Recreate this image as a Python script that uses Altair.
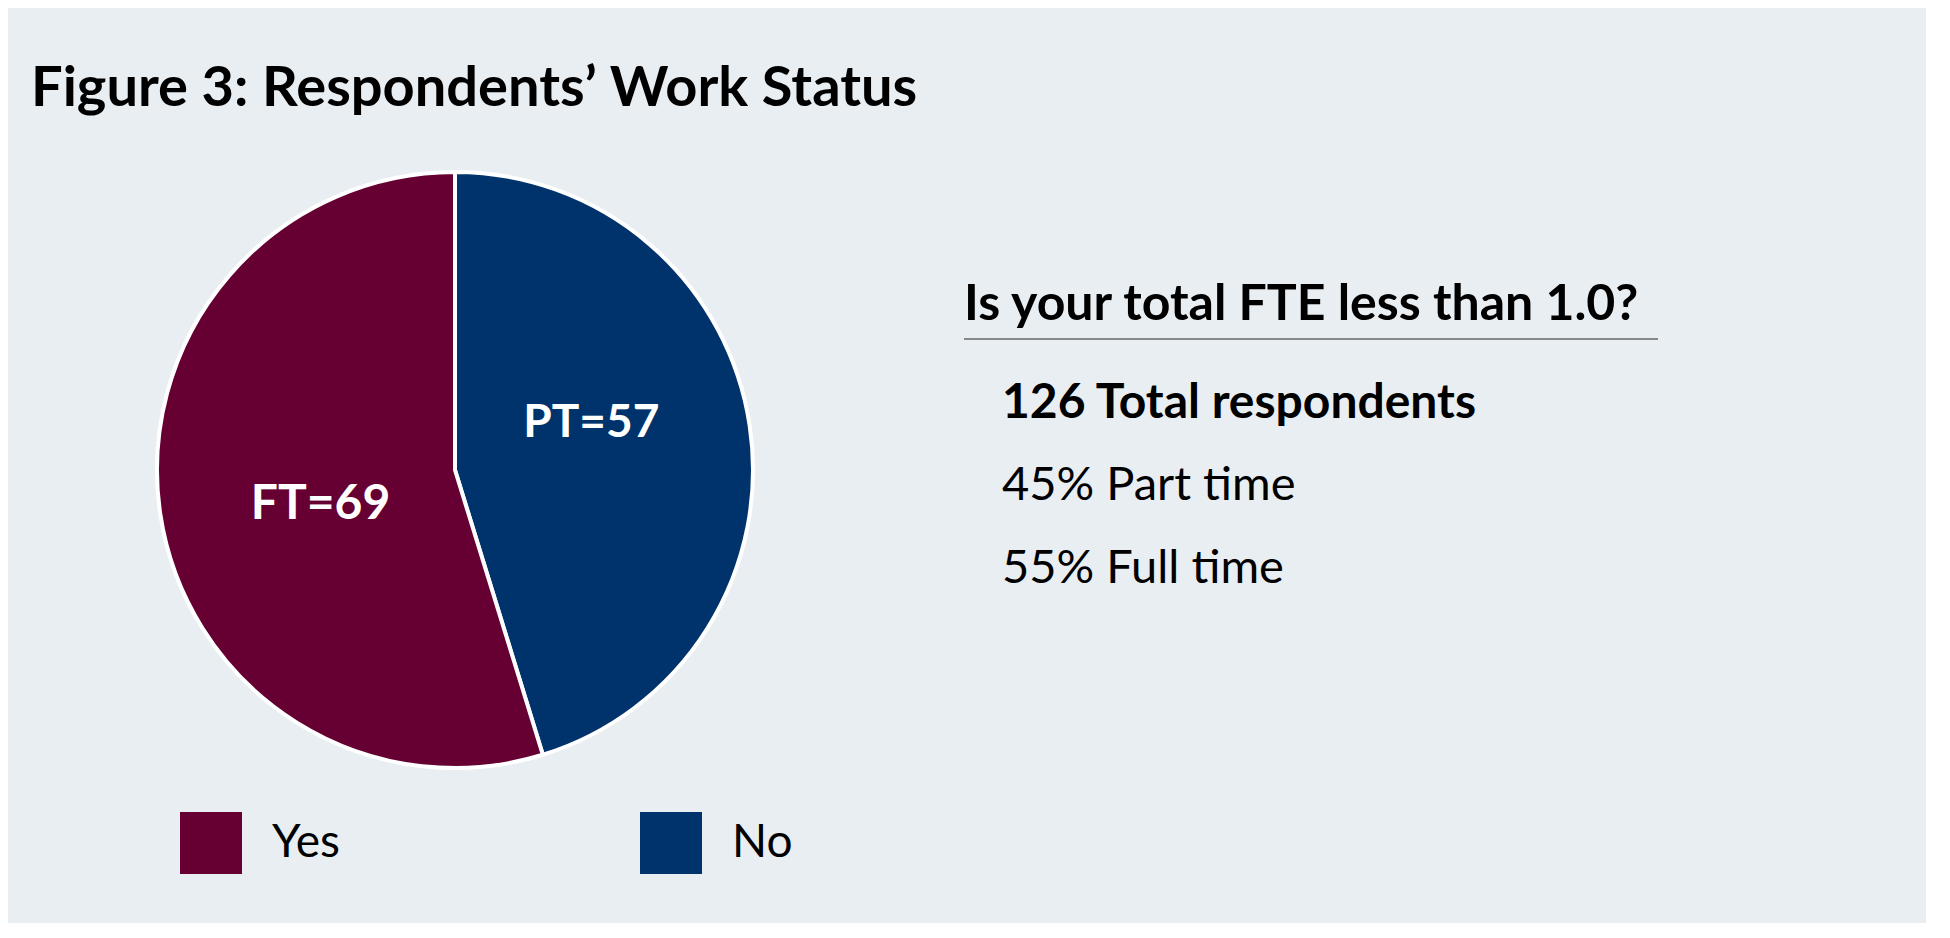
import altair as alt
import pandas as pd

# ---- data ----
status = ["No", "Yes"]
counts = [57, 69]
slice_labels = ["PT=57", "FT=69"]
slice_order = [1, 2]

legend_order = ["Yes", "No"]
legend_colors = ["#660033", "#00336B"]

title_text = "Figure 3: Respondents\u2019 Work Status"
question = "Is your total FTE less than 1.0?"
total_line = "126 Total respondents"
pct_lines = ["45% Part time", "55% Full time"]

df = pd.DataFrame({"status": status, "count": counts,
                   "label": slice_labels, "order": slice_order})

BG = "#E9EEF2"
FONT = "Lato"

CX, CY = 447, 347
R = 298

color_scale = alt.Scale(domain=legend_order, range=legend_colors)

pie = alt.Chart(df).mark_arc(outerRadius=R, stroke="white", strokeWidth=4).encode(
    theta=alt.Theta("count:Q", stack=True),
    order=alt.Order("order:Q"),
    color=alt.Color(
        "status:N", scale=color_scale,
        legend=alt.Legend(
            orient="none", legendX=172, legendY=689, direction="horizontal",
            title=None, symbolType="square", symbolSize=3844,
            symbolStrokeWidth=0, symbolOpacity=1, labelFontSize=46,
            labelFont=FONT, labelColor="black", labelOffset=30,
            columnPadding=300, padding=0, labelLimit=400,
        ),
    ),
    x=alt.value(CX), y=alt.value(CY),
)

lab_base = alt.Chart(df).transform_window(
    cum="sum(count)", sort=[alt.SortField("order", order="ascending")]
).transform_calculate(mid="datum.cum - datum.count / 2")

def slice_label(st, radius, dx, dy, size):
    return lab_base.transform_filter(alt.datum.status == st).mark_text(
        radius=radius, dx=dx, dy=dy, font=FONT, fontWeight="bold",
        fontSize=size, color="white", baseline="middle", align="center",
    ).encode(
        theta=alt.Theta("mid:Q", stack=None),
        text="label:N",
        x=alt.value(CX), y=alt.value(CY),
    )

pt_label = slice_label("No", 148, -10, -25, 46)
ft_label = slice_label("Yes", 138, 2, 14, 48)

def txt(s, x, y, size, weight="normal"):
    return alt.Chart(pd.DataFrame({"t": [s]})).mark_text(
        align="left", baseline="alphabetic", font=FONT, fontSize=size,
        fontWeight=weight, color="black",
    ).encode(text="t:N", x=alt.value(x), y=alt.value(y))

q = txt(question, 956, 197, 50, "bold")
rule = alt.Chart(pd.DataFrame({"a": [0]})).mark_rule(
    color="#666666", strokeWidth=1.5
).encode(x=alt.value(956), x2=alt.value(1650), y=alt.value(216))
t1 = txt(total_line, 994, 295, 48, "bold")
t2 = txt(pct_lines[0], 994, 377, 47)
t3 = txt(pct_lines[1], 994, 460, 47)

chart = alt.layer(pie, pt_label, ft_label, q, rule, t1, t2, t3).properties(
    width=1918, height=800,
    title=alt.TitleParams(
        title_text, anchor="start", fontSize=56, font=FONT,
        fontWeight="bold", color="black", offset=5, dx=23,
    ),
    padding={"left": 0, "top": 53, "right": 0, "bottom": 0},
    background=BG,
).configure_view(strokeWidth=0)

chart.save("out.html", embed_options={"renderer": "svg", "actions": False})
